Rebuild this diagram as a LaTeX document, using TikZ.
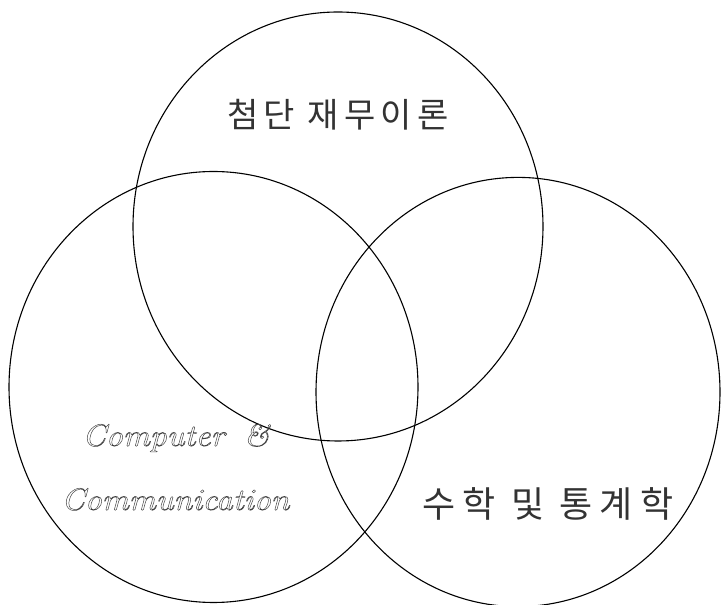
\documentclass[tikz,border=0pt]{standalone}
\usepackage{fontspec}
\newfontfamily\krtop[LetterSpace=15]{Noto Sans CJK KR}
\newfontfamily\krbot[LetterSpace=20]{Noto Sans CJK KR}
\newcommand\hollowtext[1]{\special{pdf:literal direct 1 Tr 0.45 w}#1\special{pdf:literal direct 0 Tr}}
\begin{document}
\begin{tikzpicture}[x=1pt,y=1pt]
\tikzset{
  venn/.style={draw=black, line width=1.1pt},
  krlabel/.style={inner sep=0pt, text=black!80},
  enlabel/.style={inner sep=0pt, text=black!75, font=\itshape\fontsize{31}{31}\selectfont, xscale=1.09}
}
\useasboundingbox (0,0) rectangle (721,605);
\clip (0,0) rectangle (721,605);
% circles
\draw[venn] (338,378.5) ellipse [x radius=205, y radius=214.5];
\draw[venn] (213.5,218) ellipse [x radius=204.5, y radius=215.5];
\draw[venn] (518,213) ellipse [x radius=202, y radius=214.6];
% labels
\node[krlabel, font=\krtop\fontsize{34}{34}\selectfont] (fin) at (338,490) {첨단 재무이론};
\node[krlabel, font=\krbot\fontsize{36}{36}\selectfont] (math) at (548,101) {수학 및 통계학};
\node[enlabel, anchor=base west] (comp) at (82,159) {\hollowtext{Computer\hspace{7pt} \&}};
\node[enlabel, anchor=base west] (comm) at (61,95) {\hollowtext{Communication}};
\end{tikzpicture}
\end{document}
